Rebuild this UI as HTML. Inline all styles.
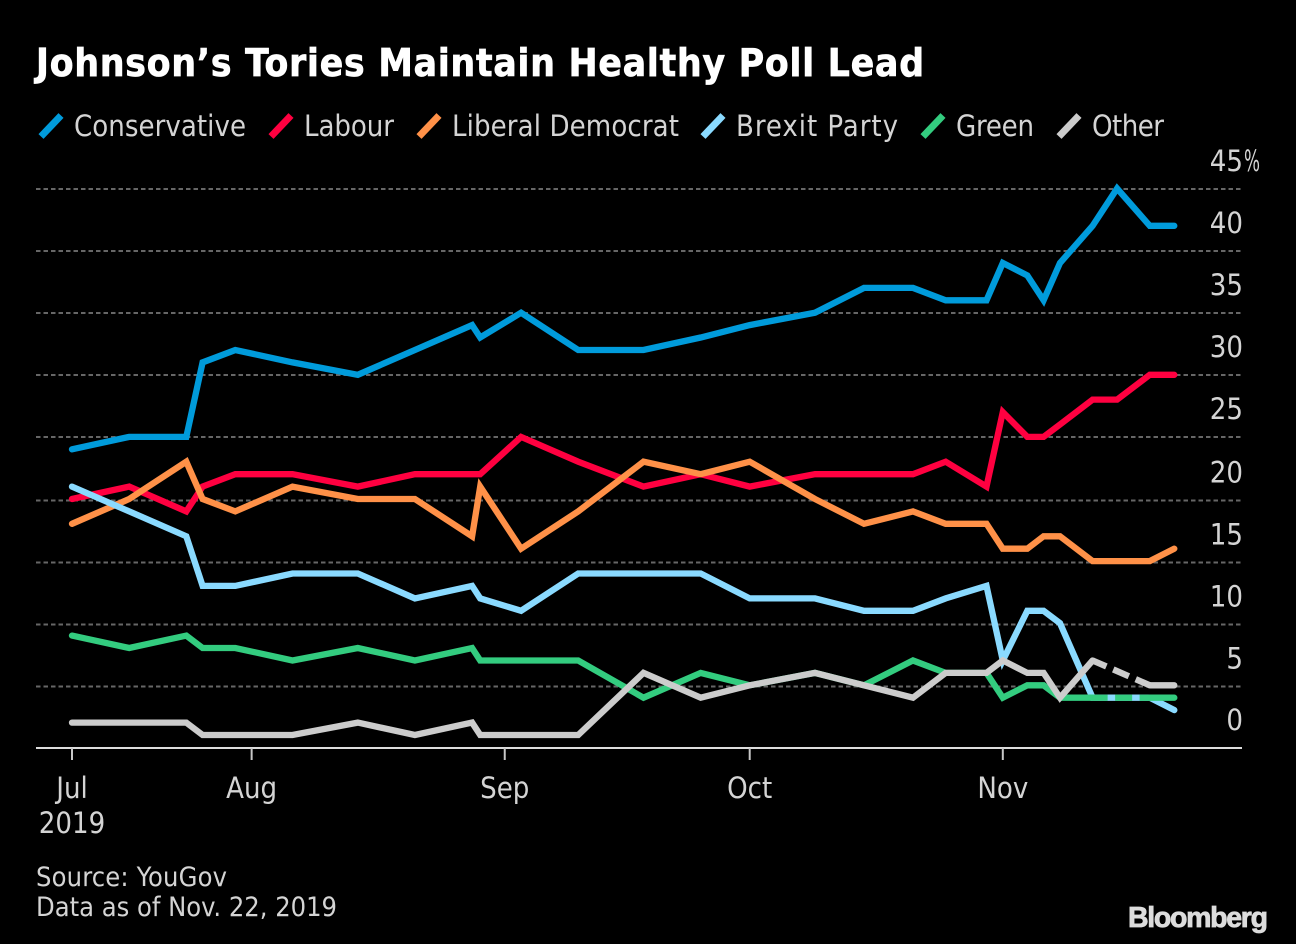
<!DOCTYPE html>
<html lang="en">
<head>
<meta charset="utf-8">
<title>Johnson's Tories Maintain Healthy Poll Lead</title>
<style>
  html, body { margin: 0; padding: 0; background: #000; }
  svg { display: block; }
  text { font-family: "DejaVu Sans", "Liberation Sans", sans-serif; font-stretch: condensed; fill: #d4d4d4; }
</style>
</head>
<body>
<svg id="chart" width="1296" height="944" viewBox="0 0 1296 944" xmlns="http://www.w3.org/2000/svg">
  <rect width="1296" height="944" fill="#000"/>
  <text x="36" y="76" font-size="38.5" font-weight="700" style="fill:#fff;stroke:#fff;stroke-width:0.7" textLength="888" lengthAdjust="spacing">Johnson’s Tories Maintain Healthy Poll Lead</text>
  <g id="legend"></g>
  <g id="grid"></g>
  <g id="yLabels"></g>
  <g id="xAxis"></g>
  <g id="series"></g>
  <text x="36" y="886" font-size="27" textLength="191" lengthAdjust="spacing">Source: YouGov</text>
  <text x="36" y="916" font-size="27" textLength="301" lengthAdjust="spacing">Data as of Nov. 22, 2019</text>
  <text x="1128" y="927" font-size="28.5" font-weight="700" textLength="140" lengthAdjust="spacing" style="font-family:'Liberation Sans',sans-serif;font-stretch:normal;fill:#dcdcdc;stroke:#dcdcdc;stroke-width:0.8">Bloomberg</text>
</svg>
<script>
// Days since the first poll (Jul 10, 2019)
const days = [0, 7, 14, 16, 20, 27, 35, 42, 49, 50, 55, 62, 70, 77, 83, 91, 97, 103, 107, 112, 114, 117, 119, 121, 125, 128, 132, 135];
// Poll shares (%); null = no reading, bridged with a dashed segment
const conservative = [24, 25, 25, 31, 32, 31, 30, 32, 34, 33, 35, 32, 32, 33, 34, 35, 37, 37, 36, 36, 39, 38, 36, 39, 42, 45, 42, 42];
const labour = [20, 21, 19, 21, 22, 22, 21, 22, 22, 22, 25, 23, 21, 22, 21, 22, 22, 22, 23, 21, 27, 25, 25, 26, 28, 28, 30, 30];
const liberalDemocrat = [18, 20, 23, 20, 19, 21, 20, 20, 17, 21, 16, 19, 23, 22, 23, 20, 18, 19, 18, 18, 16, 16, 17, 17, 15, 15, 15, 16];
const brexitParty = [21, 19, 17, 13, 13, 14, 14, 12, 13, 12, 11, 14, 14, 14, 12, 12, 11, 11, 12, 13, 7, 11, 11, 10, 4, 4, 4, 3];
const green = [9, 8, 9, 8, 8, 7, 8, 7, 8, 7, 7, 7, 4, 6, 5, 6, 5, 7, 6, 6, 4, 5, 5, 4, 4, null, 4, 4];
const other = [2, 2, 2, 1, 1, 1, 2, 1, 2, 1, 1, 1, 6, 4, 5, 6, 5, 4, 6, 6, 7, 6, 6, 4, 7, null, 5, 5];
const yTicks = [0, 5, 10, 15, 20, 25, 30, 35, 40, 45];
const monthLabels = ["Jul", "Aug", "Sep", "Oct", "Nov"];
const monthDays = [0, 22, 53, 83, 114];

const NS = "http://www.w3.org/2000/svg";
const xScale = d => 72 + 8.165 * d;
const yScale = v => 747.4 - 12.42 * v;
const gridY = v => v === 0 ? 748 : (v <= 20 ? Math.round(yScale(v)) + 1.5 : Math.round(yScale(v)));

function make(tag, attrs, parent, txt) {
  const el = document.createElementNS(NS, tag);
  for (const k in attrs) el.setAttribute(k, attrs[k]);
  if (txt !== undefined) el.textContent = txt;
  parent.appendChild(el);
  return el;
}

const gridG = document.getElementById("grid");
const yG = document.getElementById("yLabels");
yTicks.forEach(v => {
  if (v !== 0) {
    const ln = make("line", { x1: 36, x2: 1243, y1: gridY(v), y2: gridY(v), stroke: "#666", "stroke-width": 2, "stroke-dasharray": "4.5 3" }, gridG);
    
    
  }
  const t = make("text", { x: 1243, y: gridY(v) - 18, "text-anchor": "end", "font-size": 29 }, yG, String(v));
  
  
  if (v === 45) {
    const pct = make("text", { x: 1244, y: gridY(v) - 18, "font-size": 29, textLength: 16, lengthAdjust: "spacingAndGlyphs" }, yG, "%");
    
    
  }
});

const xG = document.getElementById("xAxis");
const axisLine = make("line", { x1: 36, x2: 1242, y1: 748, y2: 748, stroke: "#dcdcdc", "stroke-width": 2 }, xG);


monthLabels.forEach((m, i) => {
  const x = xScale(monthDays[i]);
  const tick = make("line", { x1: x, x2: x, y1: 748, y2: 760, stroke: "#c8c8c8", "stroke-width": 2 }, xG);
  
  
  const lab = make("text", { x: x, y: 798, "text-anchor": "middle", "font-size": 29 }, xG, m);
  
  
});
const yearLab = make("text", { x: xScale(0), y: 833, "text-anchor": "middle", "font-size": 29 }, xG, "2019");



const drawOrder = [
  { key: "conservative", label: "Conservative", color: "#009bdb", values: conservative, lx: 38, tx: 74, tw: 172 },
  { key: "labour", label: "Labour", color: "#ff0040", values: labour, lx: 268, tx: 304, tw: 90 },
  { key: "liberal-democrat", label: "Liberal Democrat", color: "#ff9148", values: liberalDemocrat, lx: 416, tx: 452, tw: 227 },
  { key: "brexit-party", label: "Brexit Party", color: "#8adaff", values: brexitParty, lx: 700, tx: 736, tw: 162 },
  { key: "green", label: "Green", color: "#33cc7f", values: green, lx: 920, tx: 956, tw: 78 },
  { key: "other", label: "Other", color: "#cccccc", values: other, lx: 1056, tx: 1092, tw: 72 }
];

const legendG = document.getElementById("legend");
const seriesG = document.getElementById("series");
drawOrder.forEach(s => {
  const mark = make("line", { x1: s.lx + 3, y1: 136.5, x2: s.lx + 23, y2: 115.5, stroke: s.color, "stroke-width": 7 }, legendG);
  
  
  const lt = make("text", { x: s.tx, y: 136, "font-size": 29, textLength: s.tw, lengthAdjust: "spacing" }, legendG, s.label);
  
  

  const runs = [];
  let run = [];
  const bridges = [];
  s.values.forEach((v, i) => {
    if (v === null) {
      if (run.length) runs.push(run);
      run = [];
      bridges.push(i);
    } else {
      run.push(i);
    }
  });
  if (run.length) runs.push(run);

  runs.forEach(r => {
    const d = r.map((i, j) => (j ? "L" : "M") + xScale(days[i]).toFixed(1) + " " + yScale(s.values[i]).toFixed(1)).join(" ");
    const p = make("path", { d: d, fill: "none", stroke: s.color, "stroke-width": 6.3, "stroke-linecap": "round", "stroke-linejoin": "miter" }, seriesG);
    
    
  });
  bridges.forEach(i => {
    const a = i - 1, b = i + 1;
    const dash = make("line", { x1: xScale(days[a]), y1: yScale(s.values[a]), x2: xScale(days[b]), y2: yScale(s.values[b]), stroke: s.color, "stroke-width": 6.3, "stroke-dasharray": "15 7.5 17 7.5 40" }, seriesG);
    
    
  });
});
</script>
</body>
</html>
